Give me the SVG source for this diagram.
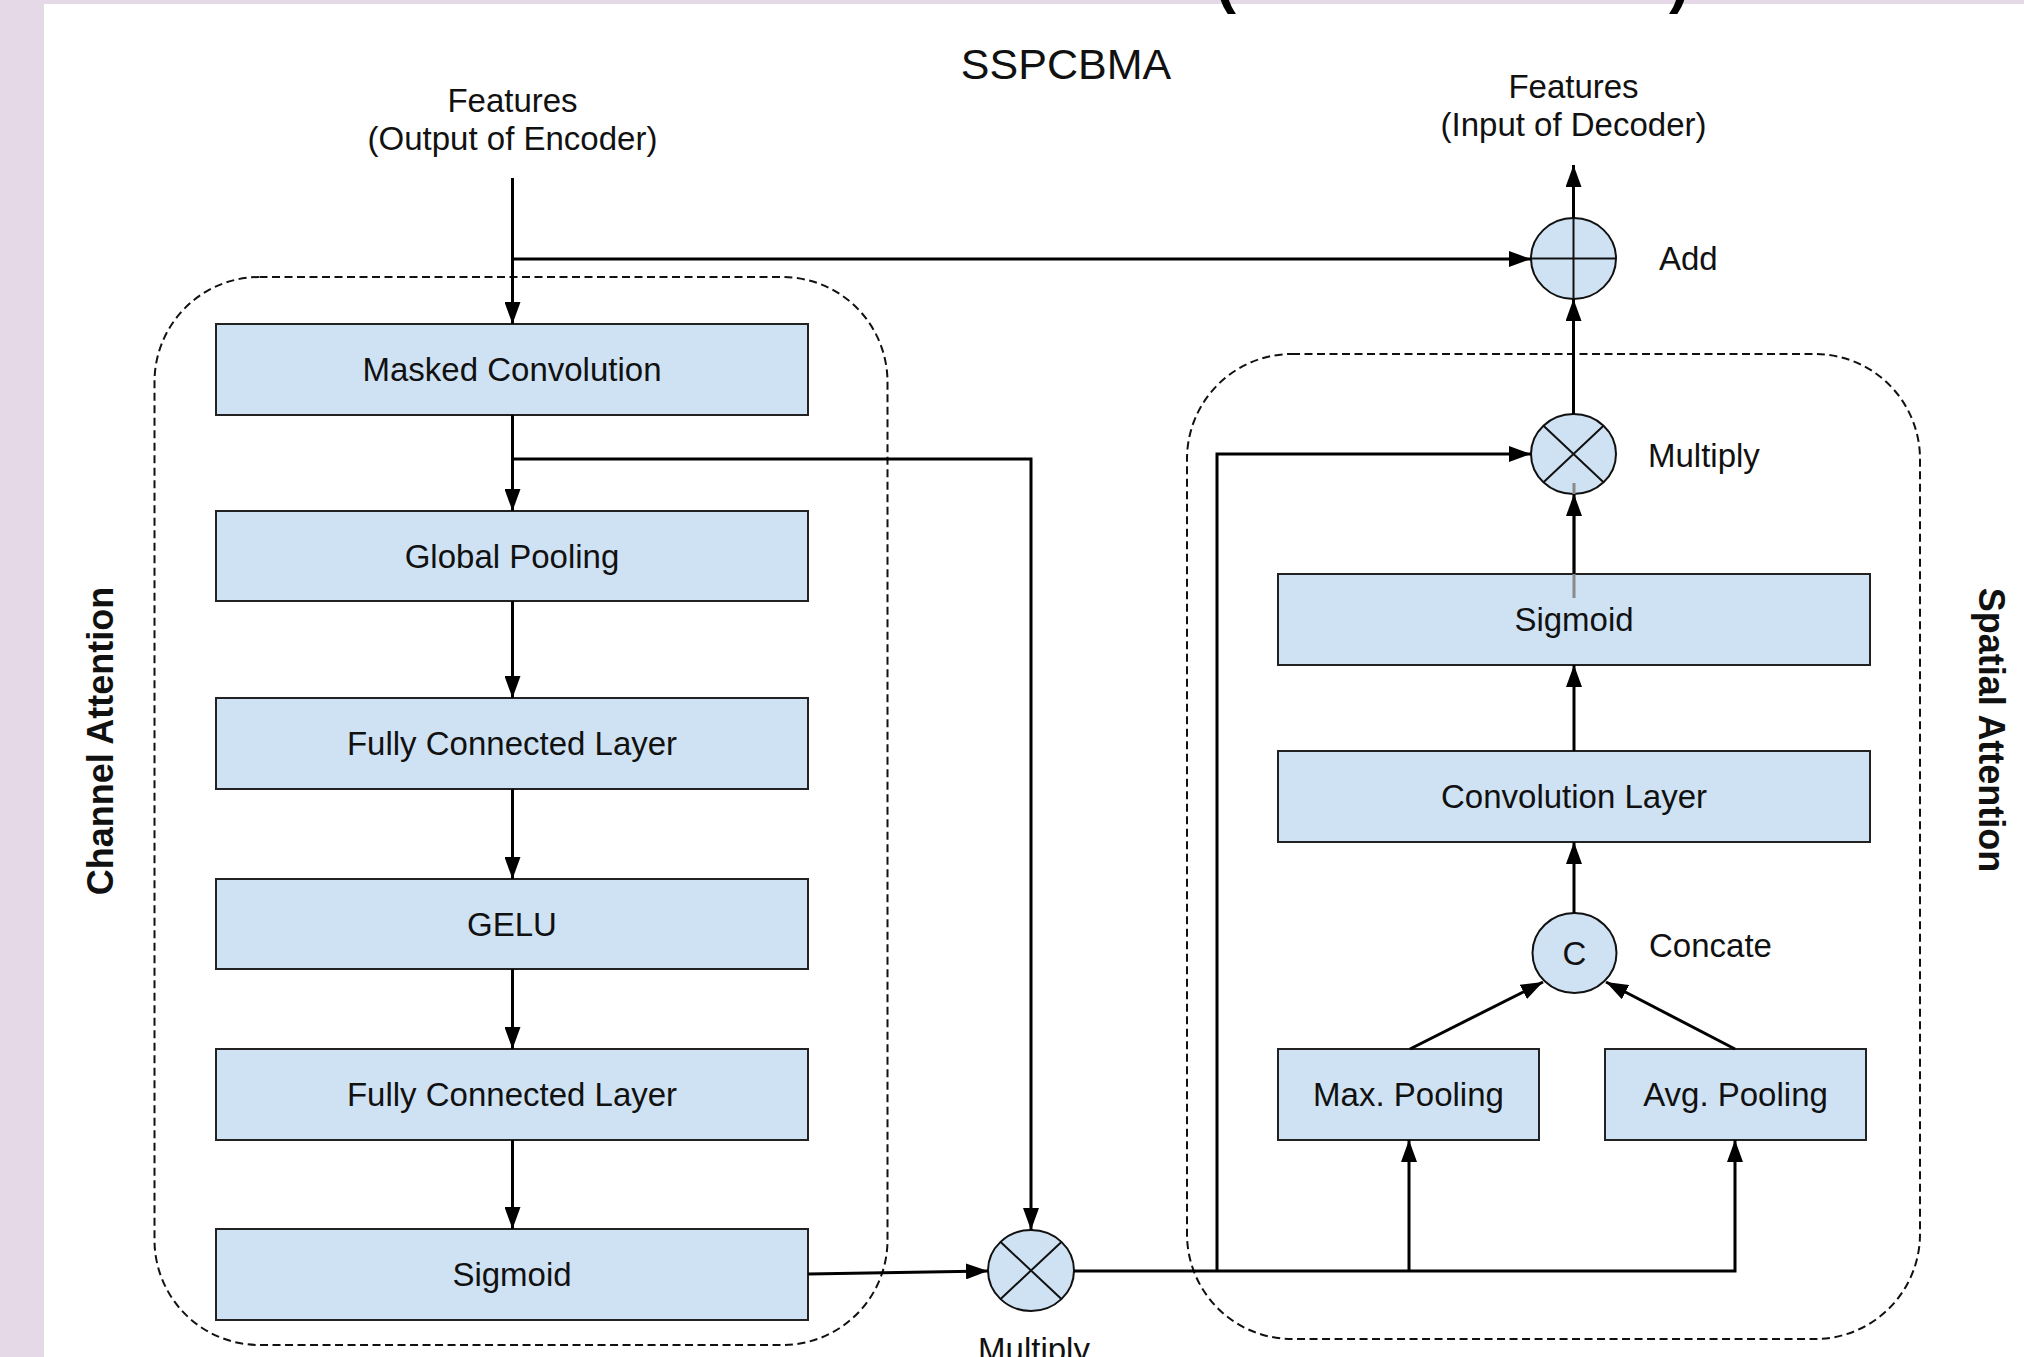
<svg xmlns="http://www.w3.org/2000/svg" width="2024" height="1357" viewBox="0 0 2024 1357">
<style>
  .box { fill: #cfe2f3; stroke: #222; stroke-width: 2; }
  .op { fill: #cfe2f3; stroke: #111; stroke-width: 2; }
  .sym { stroke: #111; stroke-width: 2; fill: none; }
  .lbl { font-family: "Liberation Sans", Arial, sans-serif; font-size: 33px; fill: #111; }
  .mid { text-anchor: middle; }
  .side { font-family: "Liberation Sans", Arial, sans-serif; font-size: 36px; font-weight: bold; fill: #111; text-anchor: middle; }
  .group { fill: none; stroke: #111; stroke-width: 2; stroke-dasharray: 8 4.5; }
  .conn { fill: none; stroke: #000; stroke-width: 3; }
</style>
<defs>
  <marker id="arr" markerUnits="userSpaceOnUse" markerWidth="22" markerHeight="16" refX="22" refY="8" orient="auto">
    <path d="M0,0 L22,8 L0,16 Z" fill="#000"/>
  </marker>
</defs>
<rect x="0" y="0" width="2024" height="1357" fill="#fff"/>
<rect x="0" y="0" width="44" height="1357" fill="#e6d9e7"/>
<rect x="0" y="0" width="2024" height="4" fill="#e6d9e7"/>
<g id="top-brackets" font-family="Liberation Sans, Arial, sans-serif" font-size="60" font-weight="bold" fill="#000">
  <text x="1216" y="2">(</text>
  <text x="1669" y="2">)</text>
</g>

<g id="title"><text class="lbl mid" x="1066" y="79" style="font-size:43px">SSPCBMA</text></g>

<g id="groups">
  <g id="channel-attention">
    <rect class="group" x="154.5" y="277" width="733" height="1068" rx="105" ry="105"/>
    <text class="side" transform="translate(113,741) rotate(-90)">Channel Attention</text>
  </g>
  <g id="spatial-attention">
    <rect class="group" x="1187" y="354" width="733" height="985" rx="105" ry="105"/>
    <text class="side" transform="translate(1979,730) rotate(90)">Spatial Attention</text>
  </g>
</g>

<g id="input-label">
  <text class="lbl mid" x="512.5" y="112">Features</text>
  <text class="lbl mid" x="512.5" y="150">(Output of Encoder)</text>
</g>
<g id="output-label">
  <text class="lbl mid" x="1573.5" y="98">Features</text>
  <text class="lbl mid" x="1573.5" y="136">(Input of Decoder)</text>
</g>

<g id="masked-conv"><rect class="box" x="216" y="324" width="592" height="91"/><text class="lbl mid" x="512" y="381">Masked Convolution</text></g>
<g id="global-pooling"><rect class="box" x="216" y="511" width="592" height="90"/><text class="lbl mid" x="512" y="568">Global Pooling</text></g>
<g id="fc1"><rect class="box" x="216" y="698" width="592" height="91"/><text class="lbl mid" x="512" y="755">Fully Connected Layer</text></g>
<g id="gelu"><rect class="box" x="216" y="879" width="592" height="90"/><text class="lbl mid" x="512" y="936">GELU</text></g>
<g id="fc2"><rect class="box" x="216" y="1049" width="592" height="91"/><text class="lbl mid" x="512" y="1106">Fully Connected Layer</text></g>
<g id="sigmoid-ca"><rect class="box" x="216" y="1229" width="592" height="91"/><text class="lbl mid" x="512" y="1286">Sigmoid</text></g>

<g id="sigmoid-sa"><rect class="box" x="1278" y="574" width="592" height="91"/><text class="lbl mid" x="1574" y="631">Sigmoid</text></g>
<g id="conv-layer"><rect class="box" x="1278" y="751" width="592" height="91"/><text class="lbl mid" x="1574" y="808">Convolution Layer</text></g>
<g id="max-pooling"><rect class="box" x="1278" y="1049" width="261" height="91"/><text class="lbl mid" x="1408.5" y="1106">Max. Pooling</text></g>
<g id="avg-pooling"><rect class="box" x="1605" y="1049" width="261" height="91"/><text class="lbl mid" x="1735.5" y="1106">Avg. Pooling</text></g>

<g id="add">
  <ellipse class="op" cx="1573.5" cy="258.5" rx="42.5" ry="40.5"/>
  <path class="sym" d="M1531 258.5 H1616 M1573.5 218 V299"/>
  <text class="lbl" x="1659" y="270">Add</text>
</g>
<g id="multiply-sa">
  <ellipse class="op" cx="1573.5" cy="454" rx="42.5" ry="40"/>
  <path class="sym" d="M1543.5 425.7 L1603.5 482.3 M1603.5 425.7 L1543.5 482.3"/>
  <text class="lbl" x="1648" y="467">Multiply</text>
</g>
<g id="concat">
  <ellipse class="op" cx="1574.5" cy="953" rx="42" ry="40"/>
  <text class="lbl mid" x="1574.5" y="965">C</text>
  <text class="lbl" x="1649" y="957">Concate</text>
</g>
<g id="multiply-ca">
  <ellipse class="op" cx="1031" cy="1270.5" rx="43" ry="40.5"/>
  <path class="sym" d="M1000.6 1241.9 L1061.4 1299.1 M1061.4 1241.9 L1000.6 1299.1"/>
  <text class="lbl mid" x="1034" y="1361">Multiply</text>
</g>

<g id="connectors">
  <line x1="1574" y1="483" x2="1574" y2="598" stroke="#8a8a8a" stroke-width="3"/>
  <path class="conn" d="M512.5 178 V324" marker-end="url(#arr)"/>
  <path class="conn" d="M512.5 259 H1531" marker-end="url(#arr)"/>
  <path class="conn" d="M1573.5 218 V165" marker-end="url(#arr)"/>
  <path class="conn" d="M1573.5 414 V299" marker-end="url(#arr)"/>
  <path class="conn" d="M1574 574 V494" marker-end="url(#arr)"/>
  <path class="conn" d="M1574 751 V665" marker-end="url(#arr)"/>
  <path class="conn" d="M1574 913 V842" marker-end="url(#arr)"/>
  <path class="conn" d="M1410 1049 L1543 982" marker-end="url(#arr)"/>
  <path class="conn" d="M1735 1049 L1606 982" marker-end="url(#arr)"/>
  <path class="conn" d="M1074 1271 H1735 V1140" marker-end="url(#arr)"/>
  <path class="conn" d="M1409 1271 V1140" marker-end="url(#arr)"/>
  <path class="conn" d="M1217 1271 V454 H1531" marker-end="url(#arr)"/>
  <path class="conn" d="M512.5 459 H1031 V1230" marker-end="url(#arr)"/>
  <path class="conn" d="M512.5 415 V511" marker-end="url(#arr)"/>
  <path class="conn" d="M512.5 601 V698" marker-end="url(#arr)"/>
  <path class="conn" d="M512.5 789 V879" marker-end="url(#arr)"/>
  <path class="conn" d="M512.5 969 V1049" marker-end="url(#arr)"/>
  <path class="conn" d="M512.5 1140 V1229" marker-end="url(#arr)"/>
  <path class="conn" d="M808 1274 L988 1271" marker-end="url(#arr)"/>
</g>
</svg>
